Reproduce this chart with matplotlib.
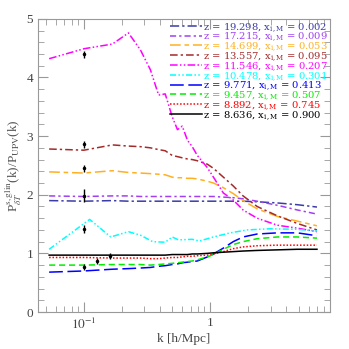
import matplotlib
matplotlib.use("Agg")
import matplotlib.pyplot as plt
from matplotlib.ticker import LogLocator, MultipleLocator, FixedLocator, NullFormatter

plt.rcParams["font.family"] = ["Liberation Serif", "DejaVu Serif"]
plt.rcParams["mathtext.fontset"] = "stix"

# common k grid [h/Mpc]
k = [0.053, 0.10, 0.168, 0.225, 0.28, 0.336, 0.39, 0.44, 0.50, 0.55, 0.60, 0.66,
     0.72, 0.79, 0.95, 1.06, 1.27, 1.52, 1.82, 2.35, 3.4, 4.9, 7.0]

r_19298 = [1.90, 1.89, 1.90, 1.89, 1.89, 1.89, 1.89, 1.89, 1.89, 1.89, 1.89, 1.89,
           1.89, 1.89, 1.89, 1.89, 1.89, 1.89, 1.89, 1.88, 1.86, 1.83, 1.79]
r_17215 = [1.98, 1.97, 1.98, 1.98, 1.97, 1.97, 1.97, 1.97, 1.97, 1.97, 1.97, 1.97,
           1.97, 1.97, 1.97, 1.97, 1.96, 1.95, 1.93, 1.89, 1.82, 1.74, 1.67]
r_14699 = [2.39, 2.37, 2.41, 2.38, 2.37, 2.36, 2.35, 2.34, 2.30, 2.29, 2.29, 2.28,
           2.28, 2.27, 2.23, 2.20, 2.12, 2.02, 1.90, 1.76, 1.63, 1.55, 1.47]
r_13557 = [2.78, 2.76, 2.85, 2.83, 2.82, 2.80, 2.77, 2.75, 2.67, 2.65, 2.63, 2.61,
           2.60, 2.58, 2.52, 2.45, 2.30, 2.15, 1.98, 1.80, 1.64, 1.51, 1.40]
r_11546 = [4.32, 4.49, 4.57, 4.76, 4.47, 4.13, 3.70, 3.72, 3.33, 3.11, 3.17, 2.93,
           2.82, 2.67, 2.46, 2.30, 2.03, 1.91, 1.74, 1.60, 1.48, 1.43, 1.37]
r_9771 = [0.68, 0.70, 0.73, 0.74, 0.75, 0.76, 0.78, 0.79, 0.81, 0.82, 0.84, 0.85,
          0.86, 0.87, 0.94, 0.99, 1.09, 1.20, 1.28, 1.33, 1.35, 1.35, 1.30]
r_9457 = [0.80, 0.80, 0.81, 0.81, 0.81, 0.80, 0.81, 0.82, 0.83, 0.84, 0.85, 0.86,
          0.87, 0.89, 0.94, 0.98, 1.07, 1.15, 1.20, 1.25, 1.28, 1.28, 1.26]
r_8892 = [0.93, 0.93, 0.92, 0.92, 0.92, 0.91, 0.91, 0.92, 0.93, 0.93, 0.94, 0.95,
          0.95, 0.96, 0.97, 0.99, 1.03, 1.08, 1.11, 1.13, 1.14, 1.14, 1.14]
r_8636 = [0.97, 0.97, 0.97, 0.97, 0.97, 0.97, 0.97, 0.97, 0.98, 0.98, 0.98, 0.98,
          0.99, 0.99, 1.00, 1.01, 1.02, 1.03, 1.04, 1.05, 1.06, 1.07, 1.07]

# cyan curve sampled on its own k values
k_10478 = [0.053, 0.111, 0.163, 0.225, 0.28, 0.35, 0.44, 0.50, 0.56, 0.72, 0.82,
           1.06, 1.44, 1.96, 2.98, 4.86, 7.0]
r_10478 = [1.07, 1.58, 1.28, 1.37, 1.31, 1.20, 1.19, 1.28, 1.23, 1.24, 1.21,
           1.28, 1.35, 1.40, 1.42, 1.41, 1.38]

redshifts = ["19.298", "17.215", "14.699", "13.557", "11.546", "10.478",
             "9.771", "9.457", "8.892", "8.636"]
x_ion = ["0.002", "0.009", "0.053", "0.095", "0.207", "0.301",
         "0.413", "0.507", "0.745", "0.900"]
colors = ["#3c3ca8", "#a040f0", "#ffb020", "#a52a2a", "#ff00ff", "#00ffff",
          "#0000ff", "#00ee00", "#ff0000", "#000000"]
styles = [(0, (6, 2, 1.5, 2)), (0, (4, 2, 1.5, 2)), (0, (7, 2.5, 3, 2.5)),
          (0, (5, 2, 1.5, 2)), (0, (5, 1.5, 1, 1.5, 1, 1.5)), (0, (4, 1.5, 1, 1.5, 1, 1.5)),
          (0, (9, 3)), (0, (4, 2.5)), (0, (1, 1.2)), "-"]

# error bars
err_k = [0.1, 0.1, 0.1, 0.1, 0.1, 0.1, 0.128, 0.16]
err_y = [4.40, 2.86, 2.45, 1.98, 1.41, 0.77, 0.87, 0.95]
err_e = [0.06, 0.06, 0.06, 0.11, 0.07, 0.05, 0.05, 0.05]

fig = plt.figure(figsize=(3.49, 3.49), dpi=100)
ax = fig.add_axes([0.109, 0.106, 0.837, 0.84])

series = [(k, r_19298), (k, r_17215), (k, r_14699), (k, r_13557), (k, r_11546),
          (k_10478, r_10478), (k, r_9771), (k, r_9457), (k, r_8892), (k, r_8636)]
for (kk, rr), z, xi, c, ls in zip(series, redshifts, x_ion, colors, styles):
    ax.plot(kk, rr, color=c, linestyle=ls, lw=1.1,
            label=r"z = %s, x$_{\mathregular{i,M}}$ = %s" % (z, xi))

ax.errorbar(err_k, err_y, yerr=err_e, fmt="o", color="k", ms=1.5, elinewidth=1,
            capsize=0)

ax.set_xscale("log")
ax.set_xlim(0.0433, 8.9)
ax.set_ylim(0, 5)
ax.xaxis.set_major_locator(FixedLocator([0.1, 1]))
ax.set_xticklabels([r"$10^{-1}$", "1"])
ax.xaxis.set_minor_locator(LogLocator(base=10, subs=range(2, 10)))
ax.xaxis.set_minor_formatter(NullFormatter())
ax.yaxis.set_major_locator(MultipleLocator(1))
ax.yaxis.set_minor_locator(MultipleLocator(0.2))

for s in ax.spines.values():
    s.set_color("#999999")
ax.tick_params(which="both", direction="in", top=True, right=True,
               colors="#999999", labelcolor="#444444", labelsize=9.5)
ax.tick_params(which="major", length=7)
ax.tick_params(which="minor", length=4)

ax.set_xlabel("k [h/Mpc]", fontsize=9.5, color="#444444", labelpad=1)
ax.set_ylabel(r"P$^{\rm s,glin}_{\delta T}$(k)/P$_{\rm UPV}$(k)", fontsize=9.5,
              color="#555555", labelpad=2)

leg = ax.legend(loc="upper right", frameon=False, handlelength=3.2,
                prop={"family": "DejaVu Serif", "size": 7.2},
                handletextpad=0.15, labelspacing=-0.3, borderaxespad=0.1,
                borderpad=0.1)
for t, c in zip(leg.get_texts(), colors):
    t.set_color(c)

fig.savefig("out.png", dpi=100)
